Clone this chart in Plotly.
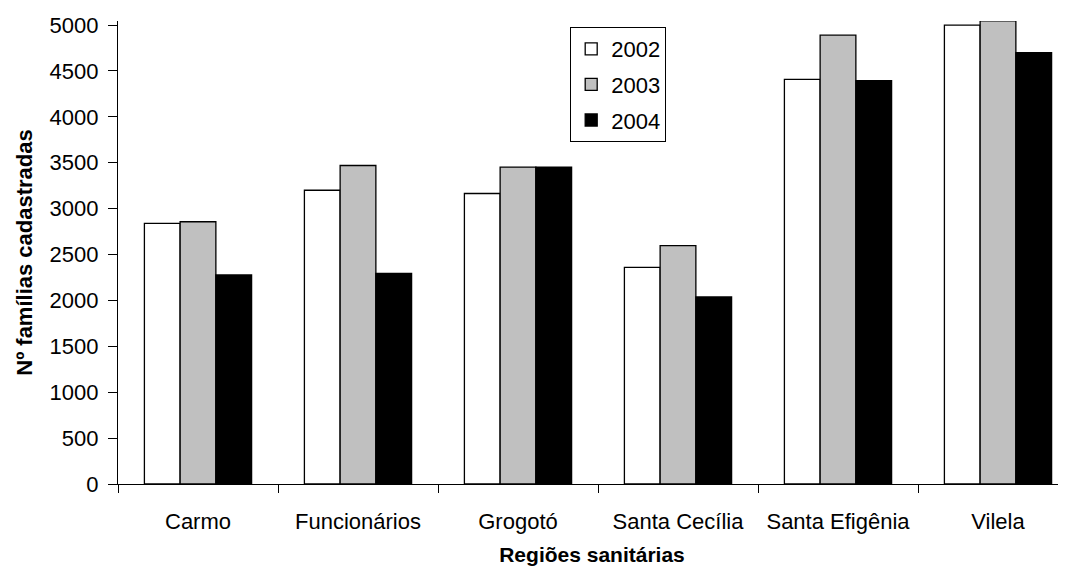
import plotly.graph_objects as go

regions = ["Carmo", "Funcionários", "Grogotó", "Santa Cecília", "Santa Efigênia", "Vilela"]
years = ["2002", "2003", "2004"]
v2002 = [2840, 3200, 3165, 2360, 4408, 5000]
v2003 = [2857, 3470, 3453, 2596, 4890, 5045]
v2004 = [2277, 2295, 3453, 2037, 4393, 4699]
colors = ["#FFFFFF", "#C0C0C0", "#000000"]
yticks = list(range(0, 5001, 500))

font_family = "Liberation Sans, Arial, sans-serif"

fig = go.Figure()
for i, (name, vals) in enumerate(zip(years, [v2002, v2003, v2004])):
    fig.add_trace(go.Bar(
        x=regions, y=vals, name=name,
        marker=dict(color=colors[i], line=dict(color="#000000", width=1.3)),
        legendgroup=name,
    ))

fig.update_layout(
    width=1058, height=560,
    margin=dict(l=110, r=0, t=13, b=84),
    paper_bgcolor="white", plot_bgcolor="white",
    barmode="group", bargap=0.33, bargroupgap=0,
    font=dict(family=font_family, size=22, color="black"),
    showlegend=True,
    legend=dict(
        x=0.477, y=0.987, xanchor="left", yanchor="top",
        bgcolor="white", bordercolor="black", borderwidth=1,
        font=dict(size=22), traceorder="grouped", tracegroupgap=4,
        itemwidth=30,
    ),
    xaxis=dict(
        range=[-0.5, 5.425],
        showline=True, linecolor="black", linewidth=1.3,
        ticks="outside", tickson="boundaries", ticklen=8, tickcolor="black", tickwidth=1.3,
        showgrid=False, zeroline=False,
        title=dict(text="<b>Regiões sanitárias</b>", font=dict(size=21), standoff=14),
        tickfont=dict(size=22),
        ticklabelstandoff=17,
        automargin=False,
    ),
    yaxis=dict(
        range=[0, 5044],
        tickvals=yticks,
        showline=True, linecolor="black", linewidth=1.3,
        ticks="outside", ticklen=9, tickcolor="black", tickwidth=1.3,
        showgrid=False, zeroline=False,
        title=dict(text="<b>Nº famílias cadastradas</b>", font=dict(size=22), standoff=10),
        tickfont=dict(size=22),
        ticklabelstandoff=5,
        automargin=False,
    ),
)

fig.write_html("out.html")
